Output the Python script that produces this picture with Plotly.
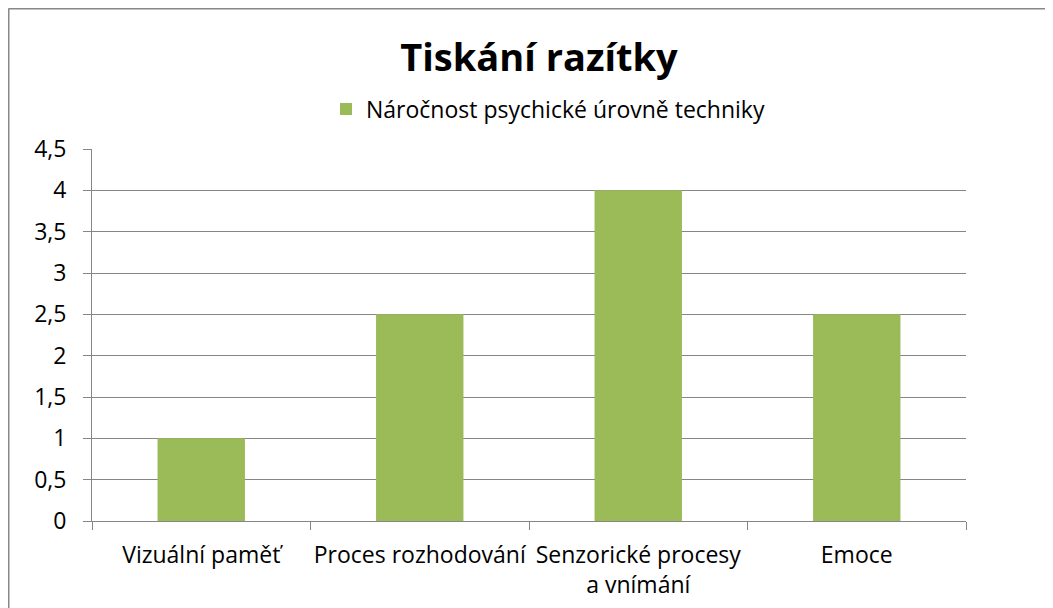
import plotly.graph_objects as go

categories = ["Vizuální paměť", "Proces rozhodování", "Senzorické procesy<br>a vnímání", "Emoce"]
values = [1, 2.5, 4, 2.5]
series_name = "Náročnost psychické úrovně techniky"
title_text = "Tiskání razítky"

OFF = 8  # page body margin
W, H = 1053 - OFF, 608 - OFF
L, R, T, B = 92 - OFF, 966 - OFF, 149 - OFF, 521 - OFF
pw, ph = R - L, B - T

def px_x(x):
    return (x - OFF - L) / pw

def px_y(y):
    return (B - (y - OFF)) / ph

fig = go.Figure()
fig.add_trace(go.Bar(x=categories, y=values, name=series_name,
                     marker=dict(color="#9BBB59", line=dict(width=0)),
                     showlegend=True))

grid = "#868686"
fnt = "'Open Sans', sans-serif"
fig.update_layout(
    width=W, height=H,
    margin=dict(l=L, r=W - R, t=T, b=H - B, autoexpand=False),
    paper_bgcolor="white", plot_bgcolor="white",
    font=dict(family=fnt, color="black", size=23),
    separators=", ",
    bargap=0.6,
    title=dict(text="<b>" + title_text + "</b>", x=px_x(539), xref="paper", xanchor="center",
               y=1 - (58 - OFF) / H, yref="container", yanchor="middle",
               font=dict(size=38, color="black", family=fnt)),
    showlegend=True,
    legend=dict(x=px_x(548), xanchor="center", y=px_y(109), yanchor="middle",
                orientation="h", font=dict(size=23), itemwidth=30,
                bgcolor="rgba(0,0,0,0)"),
    xaxis=dict(type="category", showline=True, linecolor=grid, linewidth=1,
               ticks="outside", tickson="boundaries", ticklen=8, tickcolor=grid,
               showgrid=False, tickfont=dict(size=23), tickangle=0, ticklabelstandoff=13),
    yaxis=dict(range=[0, 4.5], dtick=0.5, tick0=0, showline=True, linecolor=grid, linewidth=1,
               ticks="outside", ticklen=8, tickcolor=grid, showgrid=True, gridcolor=grid,
               gridwidth=1, zeroline=False, tickfont=dict(size=23), ticklabelstandoff=12),
    shapes=[
        dict(type="line", xref="paper", yref="paper", x0=px_x(8.5), x1=px_x(1100),
             y0=px_y(8.5), y1=px_y(8.5), line=dict(color="#888888", width=2)),
        dict(type="line", xref="paper", yref="paper", x0=px_x(8.5), x1=px_x(8.5),
             y0=px_y(8.5), y1=px_y(700), line=dict(color="#888888", width=2)),
    ],
)

fig.write_html("out.html")
